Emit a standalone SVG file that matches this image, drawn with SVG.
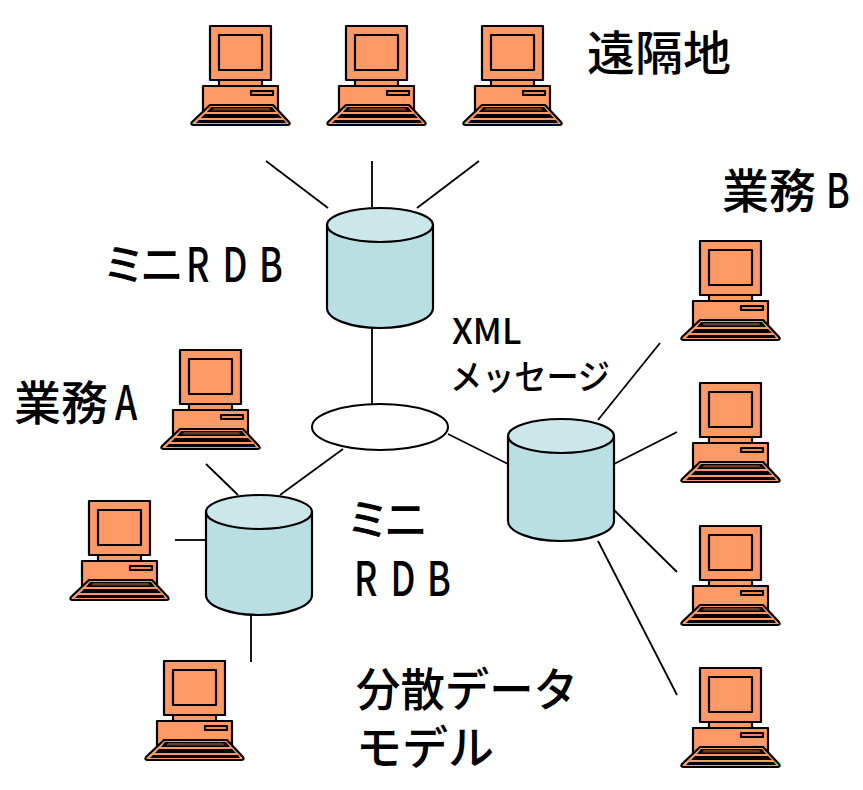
<svg xmlns="http://www.w3.org/2000/svg" width="863" height="790" viewBox="0 0 863 790">
<style>
.o{stroke:#000;stroke-width:2.2;stroke-linejoin:round}
.pc{fill:#ff9966}
.slot{fill:#e88a58}
.k{fill:#000}
.dk{fill:#6b3a22}
.cy{fill:#b9dfe3;stroke:#000;stroke-width:2.2}
.cyt{fill:#cbe7ea;stroke:#000;stroke-width:2.2}
.ln{stroke:#000;stroke-width:1.8;fill:none}
text{font-family:"Noto Sans CJK JP","Noto Sans",sans-serif;fill:#000;font-weight:500}
.t{font-size:46px}
.l{font-size:47px}
.s{font-size:35px}
.m{font-size:44px;letter-spacing:-6px}
</style>
<defs>
<g id="pc">
<rect class="o pc" x="19" y="1" width="61" height="54"/>
<rect class="o pc" x="28" y="10" width="43" height="35"/>
<rect class="o pc" x="28" y="55" width="43" height="6"/>
<rect class="o pc" x="12" y="61" width="75" height="30"/>
<rect class="o slot" x="60" y="66" width="22" height="4"/>
<path class="o pc" d="M19 80H82L98 97Q100 100 96 100H3Q-1 100 1 97Z"/>
<path class="k" d="M20 82H81L85 87H16Z"/>
<path class="dk" d="M23 83H78L80 85.500H21Z"/>
<path class="k" d="M14 89H87L91 93H10Z"/>
<path class="k" d="M8 95H93L95 98H5Z"/>
</g>
</defs>
<g id="connectors">
<line class="ln" x1="266" y1="161" x2="328" y2="208"/>
<line class="ln" x1="372" y1="161" x2="372" y2="207"/>
<line class="ln" x1="479" y1="161" x2="417" y2="208"/>
<line class="ln" x1="372" y1="328" x2="372" y2="404"/>
<line class="ln" x1="343" y1="449" x2="280" y2="495"/>
<line class="ln" x1="448" y1="434" x2="508" y2="464"/>
<line class="ln" x1="206" y1="464" x2="238" y2="495"/>
<line class="ln" x1="175" y1="540" x2="206" y2="540"/>
<line class="ln" x1="251" y1="615" x2="251" y2="662"/>
<line class="ln" x1="660" y1="343" x2="598" y2="420"/>
<line class="ln" x1="677" y1="432" x2="614" y2="464"/>
<line class="ln" x1="677" y1="572" x2="614" y2="510"/>
<line class="ln" x1="677" y1="695" x2="598" y2="541"/>
</g>
<g id="db-top"><path class="cy" d="M327 225V308A53 20 0 0 0 433 308V225"/><ellipse class="cyt" cx="380" cy="225" rx="53" ry="17"/></g>
<g id="db-left"><path class="cy" d="M206 512V595A53 20 0 0 0 312 595V512"/><ellipse class="cyt" cx="259" cy="512" rx="53" ry="17"/></g>
<g id="db-right"><path class="cy" d="M508 436V521A53 20 0 0 0 614 521V436"/><ellipse class="cyt" cx="561" cy="436" rx="53" ry="17"/></g>
<g id="hub"><ellipse cx="380" cy="427" rx="68" ry="23" fill="#fff" stroke="#000" stroke-width="2"/></g>
<g id="pc-r1"><use href="#pc" x="191" y="25"/></g>
<g id="pc-r2"><use href="#pc" x="327" y="25"/></g>
<g id="pc-r3"><use href="#pc" x="463" y="25"/></g>
<g id="pc-b1"><use href="#pc" x="681" y="240"/></g>
<g id="pc-b2"><use href="#pc" x="681" y="382"/></g>
<g id="pc-b3"><use href="#pc" x="681" y="525"/></g>
<g id="pc-b4"><use href="#pc" x="681" y="667"/></g>
<g id="pc-a"><use href="#pc" x="161" y="349"/></g>
<g id="pc-l"><use href="#pc" x="70" y="500"/></g>
<g id="pc-bot"><use href="#pc" x="145" y="660"/></g>
<g id="labels">
<text class="l" x="587" y="70" textLength="144" lengthAdjust="spacingAndGlyphs">遠隔地</text>
<text class="l" x="722" y="208">業務</text>
<text class="l" transform="translate(826,208) scale(.76,1)">B</text>
<text class="m" x="102" y="281">ミニ</text>
<text class="l" transform="translate(186,282) scale(.76,1)" x="0 48 96">RDB</text>
<text class="l" x="14" y="420">業務</text>
<text class="l" transform="translate(115,420) scale(.76,1)">A</text>
<text class="m" x="346" y="536">ミニ</text>
<text class="l" transform="translate(354,596) scale(.76,1)" x="0 48 96">RDB</text>
<text class="s" x="452" y="344">XML</text>
<text class="s" x="450" y="390" textLength="160" lengthAdjust="spacingAndGlyphs">メッセージ</text>
<text class="t" x="356" y="706" textLength="222" lengthAdjust="spacingAndGlyphs">分散データ</text>
<text class="t" x="356" y="764">モデル</text>
</g>
</svg>
